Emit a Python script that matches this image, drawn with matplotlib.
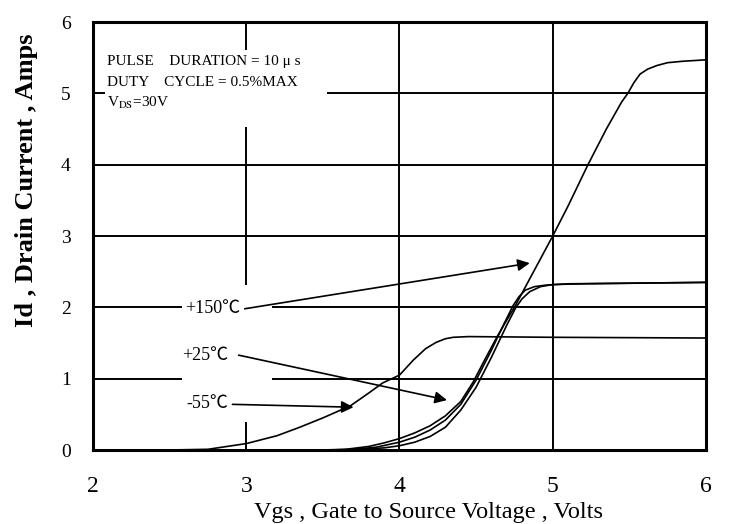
import matplotlib
matplotlib.use("Agg")
import matplotlib.pyplot as plt
from matplotlib.patches import Rectangle

plt.rcParams['font.family'] = ['Liberation Serif', 'DejaVu Serif']
plt.rcParams['mathtext.fontset'] = 'stix'

# curves (Vgs in volts, Id in amps)
vgs_a = [2.0, 2.5, 2.75, 3.0, 3.2, 3.35, 3.5, 3.68, 3.8, 3.89, 4.0, 4.09, 4.17, 4.24, 4.3, 4.35, 4.45, 5.0, 6.0]
id_a = [0.0, 0.0, 0.01, 0.09, 0.2, 0.32, 0.45, 0.62, 0.8, 0.94, 1.05, 1.26, 1.42, 1.51, 1.56, 1.58, 1.59, 1.58, 1.57]

vgs_b = [2.0, 3.5, 3.65, 3.8, 3.9, 4.0, 4.1, 4.2, 4.3, 4.4, 4.48, 4.56, 4.64, 4.7, 4.75, 4.8, 4.85, 5.0,
         5.1, 5.23, 5.35, 5.45, 5.49, 5.53, 5.57, 5.62, 5.68, 5.75, 5.85, 6.0]
id_b = [0.0, 0.0, 0.01, 0.05, 0.1, 0.16, 0.24, 0.34, 0.48, 0.68, 0.95, 1.28, 1.6, 1.82, 2.0, 2.2, 2.4, 3.0,
        3.42, 4.0, 4.5, 4.88, 5.0, 5.15, 5.27, 5.34, 5.39, 5.43, 5.45, 5.47]

vgs_c = [2.0, 3.55, 3.7, 3.85, 4.0, 4.1, 4.2, 4.3, 4.4, 4.5, 4.6, 4.68, 4.74, 4.78, 4.82, 4.88, 4.95, 5.1, 6.0]
id_c = [0.0, 0.0, 0.01, 0.04, 0.11, 0.18, 0.28, 0.42, 0.64, 0.98, 1.4, 1.76, 2.02, 2.15, 2.24, 2.29, 2.31, 2.33, 2.35]

vgs_d = [2.0, 3.6, 3.75, 3.9, 4.0, 4.1, 4.2, 4.3, 4.4, 4.5, 4.6, 4.7, 4.76, 4.8, 4.85, 4.92, 5.0, 5.2, 6.0]
id_d = [0.0, 0.0, 0.01, 0.03, 0.06, 0.11, 0.19, 0.32, 0.56, 0.88, 1.3, 1.75, 2.0, 2.12, 2.22, 2.29, 2.32, 2.33, 2.35]

x_ticks = [2, 3, 4, 5, 6]
y_ticks = [0, 1, 2, 3, 4, 5, 6]

# temperature labels: text, text position, arrow tip
temp_labels = [
    ("+150\u2103", (2.96, 1.98), (4.85, 2.62)),
    ("+25\u2103", (2.88, 1.33), (4.31, 0.70)),
    ("-55\u2103", (2.88, 0.65), (3.70, 0.60)),
]
arrow_starts = [(2.99, 1.98), (2.95, 1.33), (2.91, 0.64)]

cond_lines = ["PULSE    DURATION = 10 \u03bc s",
              "DUTY    CYCLE = 0.5%MAX",
              "V$_{\\rm DS}$=30V"]

fig = plt.figure(figsize=(7.29, 5.24), dpi=100)
ax = fig.add_axes([0.1276, 0.1412, 0.8408, 0.8168])

for xs, ys in [(vgs_a, id_a), (vgs_b, id_b), (vgs_c, id_c), (vgs_d, id_d)]:
    ax.plot(xs, ys, color='black', lw=1.2, zorder=3)

ax.set_xlim(2, 6)
ax.set_ylim(0, 6)
ax.set_xticks(x_ticks)
ax.set_yticks(y_ticks)
ax.tick_params(length=0)
ax.tick_params(axis='x', pad=19, labelsize=17)
ax.tick_params(axis='y', pad=16, labelsize=14)
ax.set_axisbelow(True)
ax.grid(True, color='black', lw=1.4)
for sp in ax.spines.values():
    sp.set_linewidth(2.2)

# white areas behind the labels hide the grid
ax.add_patch(Rectangle((2.08, 4.53), 1.45, 1.08, facecolor='white', edgecolor='none', zorder=1))
ax.add_patch(Rectangle((2.58, 0.39), 0.59, 1.92, facecolor='white', edgecolor='none', zorder=1))

for i, line in enumerate(cond_lines):
    ax.text(2.09, 5.44 - i * 0.29, line, fontsize=11, va='center', ha='left', zorder=4)

for (txt, pos, tip), start in zip(temp_labels, arrow_starts):
    ax.text(pos[0], pos[1], txt, fontsize=13, ha='right', va='center',
            family=['Liberation Serif', 'Noto Sans CJK SC'], zorder=4)
    ax.annotate("", xy=tip, xytext=start,
                arrowprops=dict(arrowstyle='-|>', color='black', lw=1.2,
                                mutation_scale=18, shrinkA=0, shrinkB=0), zorder=4)

ax.set_xlabel("Vgs , Gate to Source Voltage , Volts", fontsize=17.5)
ax.xaxis.set_label_coords(0.548, -0.122)
ax.set_ylabel("Id , Drain Current , Amps", fontsize=19, fontweight='bold')
ax.yaxis.set_label_coords(-0.09, 0.63)

fig.savefig("out.png", dpi=100)
